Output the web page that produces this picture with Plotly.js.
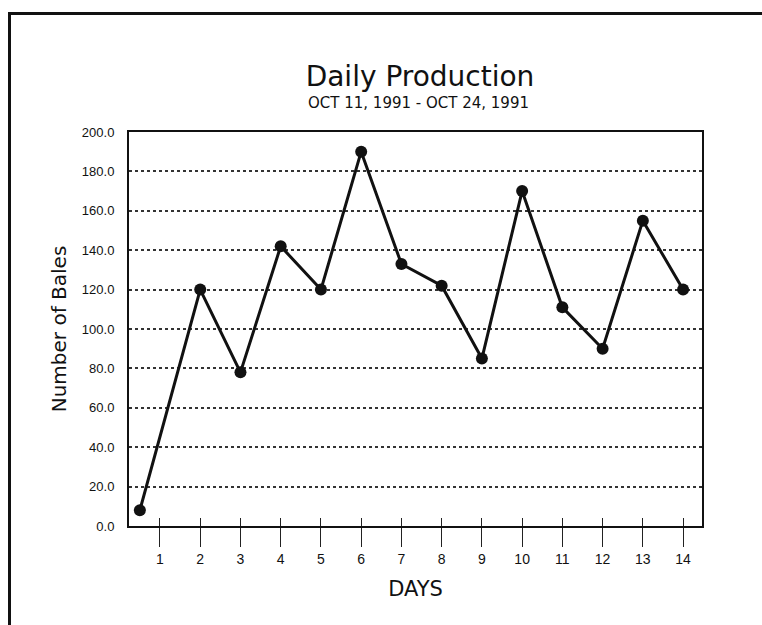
<!DOCTYPE html>
<html>
<head>
<meta charset="utf-8">
<script src="https://cdn.plot.ly/plotly-3.0.1.min.js"></script>
<style>
  html, body { margin: 0; padding: 0; background: #ffffff; }
  #chart { position: absolute; left: 0; top: 0; width: 762px; height: 625px; }
  #frame { position: absolute; left: 8px; top: 12px; width: 770px; height: 640px;
           border-left: 3px solid #111; border-top: 3px solid #111; pointer-events: none; }
</style>
</head>
<body>
<div id="chart"></div>
<div id="frame"></div>
<script>
// Data
const days = [0.5, 2, 3, 4, 5, 6, 7, 8, 9, 10, 11, 12, 13, 14];
const bales = [8, 120, 78, 142, 120, 190, 133, 122, 85, 170, 111, 90, 155, 120];
const dayTicks = [1, 2, 3, 4, 5, 6, 7, 8, 9, 10, 11, 12, 13, 14];
const dayTickLabels = ['1','2','3','4','5','6','7','8','9','10','11','12','13','14'];
const baleTicks = [0, 20, 40, 60, 80, 100, 120, 140, 160, 180, 200];
const baleTickLabels = ['0.0','20.0','40.0','60.0','80.0','100.0','120.0','140.0','160.0','180.0','200.0'];

const FONT = 'Liberation Sans, Arial, sans-serif';
const WIDE = 'DejaVu Sans, Verdana, sans-serif';

const traces = [
  {
    x: days, y: bales, type: 'scatter', mode: 'lines+markers',
    line: { color: '#111', width: 3 },
    marker: { color: '#111', size: 12 },
    showlegend: false, hoverinfo: 'x+y'
  },
  {
    x: [dayTicks[0]], y: [0], xaxis: 'x2', yaxis: 'y',
    type: 'scatter', mode: 'none', showlegend: false, hoverinfo: 'skip'
  }
];

const layout = {
  width: 762, height: 625,
  paper_bgcolor: '#ffffff', plot_bgcolor: '#ffffff',
  margin: { l: 129, r: 60, t: 132, b: 99 },
  font: { family: FONT, color: '#111' },
  title: {
    text: 'Daily Production',
    font: { family: WIDE, size: 28, color: '#111' },
    x: 420 / 762, xanchor: 'center', xref: 'container',
    y: 1 - 76 / 625, yanchor: 'middle', yref: 'container'
  },
  annotations: [
    {
      text: 'OCT 11, 1991 - OCT 24, 1991',
      xref: 'paper', yref: 'paper',
      x: (418 - 129) / (762 - 129 - 60), y: 1 + (132 - 103) / (625 - 132 - 99),
      xanchor: 'center', yanchor: 'middle', showarrow: false,
      font: { family: WIDE, size: 15, color: '#111' }
    }
  ],
  xaxis: {
    range: [0.23, 14.47],
    tickmode: 'array', tickvals: dayTicks, ticktext: dayTickLabels,
    ticks: 'outside', ticklen: 19, tickwidth: 1, tickcolor: '#222',
    tickfont: { family: FONT, size: 14, color: '#111' },
    showgrid: false, zeroline: false,
    showline: true, linecolor: '#111', linewidth: 2, mirror: true,
    title: { text: 'DAYS', font: { family: WIDE, size: 21, color: '#111' }, standoff: 16 },
    fixedrange: true
  },
  xaxis2: {
    overlaying: 'x', matches: 'x', side: 'bottom',
    range: [0.23, 14.47],
    tickmode: 'array', tickvals: dayTicks,
    ticks: 'inside', ticklen: 8, tickwidth: 1, tickcolor: '#222',
    showticklabels: false, showgrid: false, zeroline: false, showline: false
  },
  yaxis: {
    range: [0, 200],
    tickmode: 'array', tickvals: baleTicks, ticktext: baleTickLabels,
    ticks: '', ticklabelstandoff: 10,
    tickfont: { family: FONT, size: 13, color: '#111' },
    showgrid: true, gridcolor: '#333', gridwidth: 2, griddash: 'dot',
    zeroline: false,
    showline: true, linecolor: '#111', linewidth: 2, mirror: true,
    title: { text: 'Number of Bales', font: { family: WIDE, size: 20, color: '#111' }, standoff: 10 },
    fixedrange: true
  }
};

Plotly.newPlot('chart', traces, layout, { displayModeBar: false, staticPlot: true });
</script>
</body>
</html>
